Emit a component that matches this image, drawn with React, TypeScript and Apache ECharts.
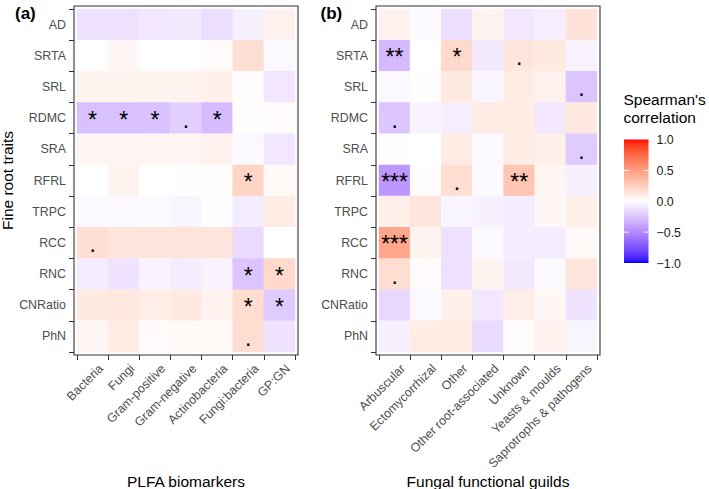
import React, { useEffect, useRef } from "react";
import * as echarts from "echarts";

// ---------- data ----------
const traits = ["AD", "SRTA", "SRL", "RDMC", "SRA", "RFRL", "TRPC", "RCC", "RNC", "CNRatio", "PhN"];
const plfaGroups = ["Bacteria", "Fungi", "Gram-positive", "Gram-negative", "Actinobacteria", "Fungi:bacteria", "GP:GN"];
const fungalGuilds = ["Arbuscular", "Ectomycorrhizal", "Other", "Other root-associated", "Unknown", "Yeasts & moulds", "Saprotrophs & pathogens"];

// Spearman's rho, rows = traits, cols = plfaGroups
const plfaRho = [
  [-0.12, -0.13, -0.10, -0.09, -0.14, -0.06, 0.07],
  [0.0, 0.04, 0.0, 0.0, 0.02, 0.17, -0.03],
  [0.06, 0.06, 0.06, 0.06, 0.08, 0.01, -0.10],
  [-0.27, -0.27, -0.26, -0.20, -0.28, 0.01, 0.02],
  [0.05, 0.05, 0.05, 0.05, 0.07, -0.03, -0.10],
  [0.0, 0.06, 0.0, -0.01, 0.01, 0.22, 0.03],
  [-0.03, -0.03, -0.02, -0.04, -0.01, -0.08, 0.10],
  [0.17, 0.13, 0.14, 0.14, 0.14, -0.15, 0.0],
  [-0.08, -0.12, -0.05, -0.08, -0.05, -0.25, 0.20],
  [0.11, 0.12, 0.09, 0.11, 0.07, 0.18, -0.22],
  [0.04, 0.10, 0.02, 0.03, 0.03, 0.18, -0.12],
];
const plfaSig = [
  ["", "", "", "", "", "", ""],
  ["", "", "", "", "", "", ""],
  ["", "", "", "", "", "", ""],
  ["*", "*", "*", ".", "*", "", ""],
  ["", "", "", "", "", "", ""],
  ["", "", "", "", "", "*", ""],
  ["", "", "", "", "", "", ""],
  [".", "", "", "", "", "", ""],
  ["", "", "", "", "", "*", "*"],
  ["", "", "", "", "", "*", "*"],
  ["", "", "", "", "", ".", ""],
];

// Spearman's rho, rows = traits, cols = fungalGuilds
const fungalRho = [
  [0.07, -0.02, -0.14, 0.06, -0.10, -0.07, 0.15],
  [-0.30, 0.0, 0.20, -0.09, 0.13, 0.11, -0.05],
  [-0.03, 0.01, 0.11, -0.04, 0.10, 0.07, -0.25],
  [-0.24, -0.05, -0.07, 0.10, 0.10, -0.10, 0.12],
  [-0.01, 0.0, 0.10, -0.03, 0.10, 0.08, -0.22],
  [-0.45, 0.01, 0.18, -0.02, 0.30, 0.05, -0.06],
  [0.08, 0.13, -0.04, -0.06, -0.08, 0.04, 0.08],
  [0.46, 0.06, -0.13, -0.03, -0.08, -0.08, 0.03],
  [0.18, 0.02, -0.13, 0.06, -0.09, -0.02, 0.13],
  [-0.17, -0.03, 0.08, -0.10, 0.09, 0.04, -0.12],
  [-0.06, 0.10, 0.10, -0.16, 0.01, 0.07, -0.04],
];
const fungalSig = [
  ["", "", "", "", "", "", ""],
  ["**", "", "*", "", ".", "", ""],
  ["", "", "", "", "", "", "."],
  [".", "", "", "", "", "", ""],
  ["", "", "", "", "", "", "."],
  ["***", "", ".", "", "**", "", ""],
  ["", "", "", "", "", "", ""],
  ["***", "", "", "", "", "", ""],
  [".", "", "", "", "", "", ""],
  ["", "", "", "", "", "", ""],
  ["", "", "", "", "", "", ""],
];

const legendBreaks = [1.0, 0.5, 0.0, -0.5, -1.0];

// ---------- colour scale (Lab interpolation like ggplot's gradient2) ----------
const Xn = 0.95047, Yn = 1.0, Zn = 1.08883;
function toLin(c: number) {
  c /= 255;
  return c <= 0.04045 ? c / 12.92 : Math.pow((c + 0.055) / 1.055, 2.4);
}
function toSrgb(c: number) {
  c = Math.max(0, Math.min(1, c));
  const v = c <= 0.0031308 ? 12.92 * c : 1.055 * Math.pow(c, 1 / 2.4) - 0.055;
  return Math.round(Math.max(0, Math.min(1, v)) * 255);
}
function rgbToLab(rgb: number[]) {
  const R = toLin(rgb[0]), G = toLin(rgb[1]), B = toLin(rgb[2]);
  const X = (0.4124564 * R + 0.3575761 * G + 0.1804375 * B) / Xn;
  const Y = (0.2126729 * R + 0.7151522 * G + 0.072175 * B) / Yn;
  const Z = (0.0193339 * R + 0.119192 * G + 0.9503041 * B) / Zn;
  const f = (t: number) => (t > 0.008856 ? Math.cbrt(t) : 7.787 * t + 16 / 116);
  const fx = f(X), fy = f(Y), fz = f(Z);
  return [116 * fy - 16, 500 * (fx - fy), 200 * (fy - fz)];
}
function labToHex(lab: number[]) {
  const fy = (lab[0] + 16) / 116;
  const fx = fy + lab[1] / 500;
  const fz = fy - lab[2] / 200;
  const finv = (t: number) => (t * t * t > 0.008856 ? t * t * t : (t - 16 / 116) / 7.787);
  const X = Xn * finv(fx), Y = Yn * finv(fy), Z = Zn * finv(fz);
  const r = 3.2404542 * X - 1.5371385 * Y - 0.4985314 * Z;
  const g = -0.969266 * X + 1.8760108 * Y + 0.041556 * Z;
  const b = 0.0556434 * X - 0.2040259 * Y + 1.0572252 * Z;
  const h = (n: number) => toSrgb(n).toString(16).padStart(2, "0");
  return "#" + h(r) + h(g) + h(b);
}
const labWhite = rgbToLab([255, 255, 255]);
const labBlue = rgbToLab([0, 0, 255]);
const labRed = rgbToLab([255, 0, 0]);
function colorFor(v: number) {
  const t = Math.min(1, Math.abs(v));
  const end = v < 0 ? labBlue : labRed;
  return labToHex(labWhite.map((w, i) => w + t * (end[i] - w)));
}
const rampStops: string[] = [];
for (let i = 0; i <= 40; i++) rampStops.push(colorFor(-1 + (2 * i) / 40));

// ---------- layout ----------
const FONT = "'Liberation Sans', Arial, Helvetica, sans-serif";
const gridA = { left: 77, top: 9, width: 218, height: 343 };
const gridB = { left: 379, top: 9, width: 218, height: 343 };
const PAD = 3;
const bar = { x: 624, y: 139.5, w: 24.5, h: 123.5 };

function buildData(vals: number[][]) {
  const out: number[][] = [];
  vals.forEach((row, r) => row.forEach((v, c) => out.push([c, r, v])));
  return out;
}

export default function App() {
  const ref = useRef<HTMLDivElement>(null);
  useEffect(() => {
    if (!ref.current) return;
    const chart = echarts.init(ref.current, null, { renderer: "svg" });

    const mkX = (cats: string[], gridIndex: number) => ({
      type: "category",
      gridIndex,
      data: cats,
      offset: PAD,
      axisLine: { show: false },
      axisTick: { show: true, length: 5, lineStyle: { color: "#333", width: 1 } },
      splitLine: { show: false },
      axisLabel: {
        interval: 0,
        rotate: 45,
        align: "right",
        verticalAlign: "top",
        margin: 3,
        padding: [6, 0, 0, 0],
        color: "#4d4d4d",
        fontSize: 12.4,
        fontFamily: FONT,
      },
    });
    const mkY = (gridIndex: number) => ({
      type: "category",
      gridIndex,
      data: traits,
      inverse: true,
      offset: PAD,
      axisLine: { show: false },
      axisTick: { show: true, length: 5, lineStyle: { color: "#333", width: 1 } },
      splitLine: { show: false },
      axisLabel: { interval: 0, margin: 8, color: "#4d4d4d", fontSize: 12.4, fontFamily: FONT },
    });

    const sigLabel = (sig: string[][]) => ({
      show: true,
      formatter: (p: any) => sig[p.value[1]][p.value[0]],
      color: "#000",
      fontSize: 23,
      fontFamily: FONT,
      offset: [0, 1.5],
    });

    const graphics: any[] = [];
    // panel borders
    [gridA, gridB].forEach((g) => {
      graphics.push({
        type: "rect",
        shape: { x: g.left - PAD, y: g.top - PAD, width: g.width + 2 * PAD, height: g.height + 2 * PAD },
        style: { fill: "none", stroke: "#333", lineWidth: 1.1 },
        z: 10,
      });
    });
    // panel tags
    graphics.push({ type: "text", x: 15, y: 13.5, style: { text: "(a)", font: `bold 17px ${FONT}`, fill: "#000", verticalAlign: "middle" } });
    graphics.push({ type: "text", x: 320.5, y: 13.5, style: { text: "(b)", font: `bold 17px ${FONT}`, fill: "#000", verticalAlign: "middle" } });
    // axis titles
    graphics.push({
      type: "text", x: 7.5, y: 180.5, rotation: Math.PI / 2,
      style: { text: "Fine root traits", font: `15.5px ${FONT}`, fill: "#000", align: "center", verticalAlign: "middle" },
    });
    graphics.push({
      type: "text", x: gridA.left + gridA.width / 2, y: 481,
      style: { text: "PLFA biomarkers", font: `15.5px ${FONT}`, fill: "#000", align: "center", verticalAlign: "middle" },
    });
    graphics.push({
      type: "text", x: gridB.left + gridB.width / 2, y: 481,
      style: { text: "Fungal functional guilds", font: `15.5px ${FONT}`, fill: "#000", align: "center", verticalAlign: "middle" },
    });
    // legend
    graphics.push({
      type: "text", x: 623.5, y: 99.8,
      style: { text: "Spearman's", font: `15.5px ${FONT}`, fill: "#000", verticalAlign: "middle" },
    });
    graphics.push({
      type: "text", x: 623.5, y: 117.5,
      style: { text: "correlation", font: `15.5px ${FONT}`, fill: "#000", verticalAlign: "middle" },
    });
    const gradStops = rampStops.map((c, i) => ({ offset: 1 - i / (rampStops.length - 1), color: c }));
    graphics.push({
      type: "rect",
      shape: { x: bar.x, y: bar.y, width: bar.w, height: bar.h },
      style: { fill: new echarts.graphic.LinearGradient(0, 0, 0, 1, gradStops.slice().reverse()) },
    });
    legendBreaks.forEach((b) => {
      const y = bar.y + ((1 - b) / 2) * bar.h;
      if (Math.abs(b) < 1) {
        graphics.push({ type: "line", shape: { x1: bar.x, y1: y, x2: bar.x + bar.w / 5, y2: y }, style: { stroke: "#fff", lineWidth: 1 }, z: 5 });
        graphics.push({ type: "line", shape: { x1: bar.x + bar.w - bar.w / 5, y1: y, x2: bar.x + bar.w, y2: y }, style: { stroke: "#fff", lineWidth: 1 }, z: 5 });
      }
      graphics.push({
        type: "text", x: 656.5, y: y + 0.5,
        style: { text: b.toFixed(1).replace("-", "\u2212"), font: `12.4px ${FONT}`, fill: "#1a1a1a", verticalAlign: "middle" },
      });
    });

    chart.setOption({
      animation: false,
      backgroundColor: "#fff",
      grid: [
        { ...gridA, containLabel: false },
        { ...gridB, containLabel: false },
      ],
      xAxis: [mkX(plfaGroups, 0), mkX(fungalGuilds, 1)],
      yAxis: [mkY(0), mkY(1)],
      visualMap: {
        show: false,
        type: "continuous",
        min: -1,
        max: 1,
        dimension: 2,
        seriesIndex: [0, 1],
        inRange: { color: rampStops },
      },
      series: [
        {
          type: "heatmap",
          xAxisIndex: 0,
          yAxisIndex: 0,
          data: buildData(plfaRho),
          label: sigLabel(plfaSig),
          emphasis: { disabled: true },
          itemStyle: { borderWidth: 0 },
        },
        {
          type: "heatmap",
          xAxisIndex: 1,
          yAxisIndex: 1,
          data: buildData(fungalRho),
          label: sigLabel(fungalSig),
          emphasis: { disabled: true },
          itemStyle: { borderWidth: 0 },
        },
      ],
      graphic: graphics,
    });
    return () => chart.dispose();
  }, []);
  return (
    <div
      ref={ref}
      style={{ position: "fixed", left: 0, top: 0, width: 709, height: 489, background: "#fff" }}
    />
  );
}
